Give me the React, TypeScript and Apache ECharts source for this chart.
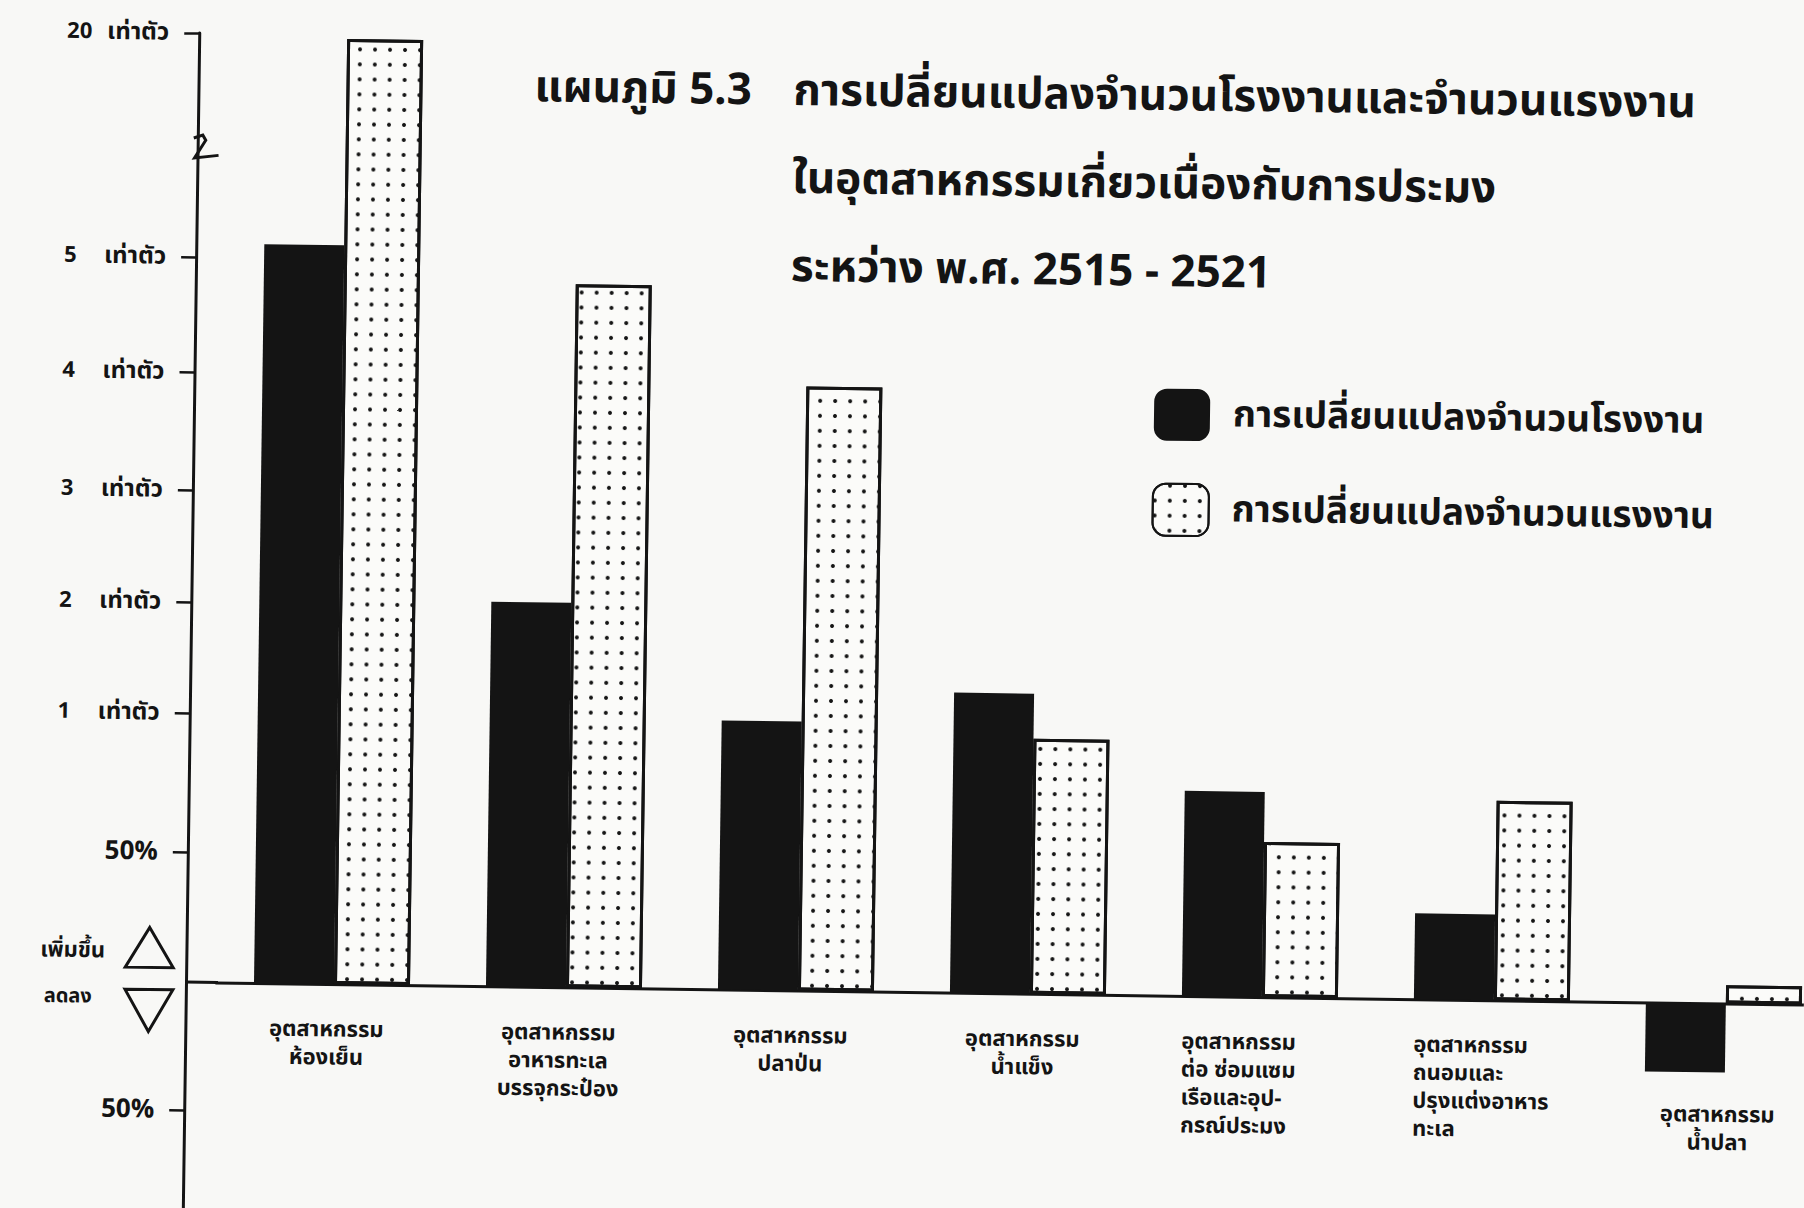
import React, { useEffect, useRef } from 'react';
import * as echarts from 'echarts';

// ---------- data ----------
const categories = [
  'อุตสาหกรรม\nห้องเย็น',
  'อุตสาหกรรม\nอาหารทะเล\nบรรจุกระป๋อง',
  'อุตสาหกรรม\nปลาป่น',
  'อุตสาหกรรม\nน้ำแข็ง',
  'อุตสาหกรรม\nต่อ ซ่อมแซม\nเรือและอุป-\nกรณ์ประมง',
  'อุตสาหกรรม\nถนอมและ\nปรุงแต่งอาหาร\nทะเล',
  'อุตสาหกรรม\nน้ำปลา',
];
const seriesNames = ['การเปลี่ยนแปลงจำนวนโรงงาน', 'การเปลี่ยนแปลงจำนวนแรงงาน'];
// percent change 2515 -> 2521
const factoryChange = [512, 204, 100, 128, 77, 33, -27];
const labourChange = [1950, 481, 395, 95, 59, 75, 7];
// y ticks (percent change) and their labels
const tickValues = [-50, 50, 100, 200, 300, 400, 500, 2000];
const tickNumbers = ['50%', '50%', '1', '2', '3', '4', '5', '20'];
const foldWord = 'เท่าตัว';
const titleLead = 'แผนภูมิ 5.3';
const titleLines = [
  'การเปลี่ยนแปลงจำนวนโรงงานและจำนวนแรงงาน',
  'ในอุตสาหกรรมเกี่ยวเนื่องกับการประมง',
  'ระหว่าง พ.ศ. 2515 - 2521',
];
const upLabel = 'เพิ่มขึ้น';
const downLabel = 'ลดลง';

// The original chart uses a broken, piecewise axis: each labelled step gets its own span.
const scaleDomain = [-50, 0, 50, 100, 200, 300, 400, 500, 600, 2000];
const scaleRange = [-128, 0, 130, 269, 380, 492, 610, 725, 840, 949];

// label layout styles (not data)
const labelLeftAligned = [false, false, false, false, true, true, false];
const labelDrop = [32, 32, 32, 32, 32, 32, 98];

function toAxis(v: number): number {
  const n = scaleDomain.length;
  for (let i = 0; i < n - 1; i++) {
    if (v <= scaleDomain[i + 1] || i === n - 2) {
      const t = (v - scaleDomain[i]) / (scaleDomain[i + 1] - scaleDomain[i]);
      return scaleRange[i] + t * (scaleRange[i + 1] - scaleRange[i]);
    }
  }
  return 0;
}

const INK = '#141414';
const FONT = "'Noto Sans Thai', 'Noto Sans Thai Looped', 'Noto Sans', 'DejaVu Sans', sans-serif";

const tickPositions = tickValues.map(toAxis);

function labelFor(val: number): string {
  const i = tickPositions.findIndex((p) => Math.abs(p - val) < 0.5);
  if (i < 0) return '';
  const num = tickNumbers[i];
  if (num.indexOf('%') >= 0) return `{p|${num}}`;
  return `{n|${num}}{t|${foldWord}}`;
}

export default function App() {
  const ref = useRef<HTMLDivElement>(null);
  useEffect(() => {
    const chart = echarts.init(ref.current!, null, { renderer: 'svg' });
    const bold = { fontFamily: FONT, fontWeight: 'bold' as const, color: INK };
    const option: any = {
      animation: false,
      backgroundColor: 'transparent',
      textStyle: { fontFamily: FONT, color: INK },
      title: [
        {
          text: titleLead,
          left: 517,
          top: 34,
          textStyle: { ...bold, fontSize: 44, lineHeight: 88 },
        },
        {
          text: titleLines.join('\n'),
          left: 776,
          top: 34,
          textStyle: { ...bold, fontSize: 44, lineHeight: 88 },
        },
      ],
      legend: {
        orient: 'vertical',
        left: 1140,
        top: 370,
        itemWidth: 56,
        itemHeight: 52,
        itemGap: 42,
        icon: 'roundRect',
        textStyle: { ...bold, fontSize: 37, padding: [0, 0, 0, 18] },
        data: seriesNames,
      },
      grid: { left: 216, right: -36, top: 33, bottom: 0, containLabel: false, outerBoundsMode: 'none' },
      xAxis: {
        type: 'category',
        data: categories,
        axisLine: { onZero: true, lineStyle: { color: INK, width: 3 } },
        axisTick: { show: false },
        axisLabel: { show: false },
        splitLine: { show: false },
      },
      yAxis: {
        type: 'value',
        min: -226,
        max: 949,
        offset: 30,
        splitLine: { show: false },
        axisLine: { show: true, lineStyle: { color: INK, width: 3 } },
        axisTick: {
          show: true,
          length: 15,
          customValues: tickPositions,
          lineStyle: { color: INK, width: 2.5 },
        },
        axisLabel: {
          customValues: tickPositions,
          margin: 30,
          formatter: (v: number) => labelFor(v),
          rich: {
            n: { ...bold, fontSize: 22, width: 40, align: 'left' },
            t: { ...bold, fontSize: 24 },
            p: { ...bold, fontSize: 26 },
          },
        },
      },
      series: [
        {
          name: seriesNames[0],
          type: 'bar',
          barWidth: 80,
          barGap: '0%',
          data: factoryChange.map(toAxis),
          itemStyle: { color: INK },
        },
        {
          name: seriesNames[1],
          type: 'bar',
          barWidth: 76,
          barGap: '0%',
          data: labourChange.map(toAxis),
          itemStyle: {
            color: '#fbfbf9',
            borderColor: INK,
            borderWidth: 3,
            decal: {
              symbol: 'circle',
              symbolSize: 1,
              dashArrayX: [4, 11],
              dashArrayY: [4, 11],
              color: INK,
            },
          },
        },
        {
          name: 'category-labels',
          type: 'custom',
          silent: true,
          clip: false,
          data: categories.map((c, i) => [i, 0]),
          renderItem: (params: any, api: any) => {
            const i = params.dataIndex;
            const p = api.coord([api.value(0), api.value(1)]);
            const left = labelLeftAligned[i];
            return {
              type: 'text',
              x: left ? p[0] - 78 : p[0] - 5,
              y: p[1] + labelDrop[i],
              style: {
                text: categories[i],
                fill: INK,
                fontFamily: FONT,
                fontWeight: 'bold',
                fontSize: 22,
                lineHeight: 28,
                align: left ? 'left' : 'center',
                verticalAlign: 'top',
              },
            };
          },
        },
      ],
      graphic: [
        {
          type: 'line',
          shape: { x1: 186, y1: 982, x2: 218, y2: 982 },
          style: { stroke: INK, lineWidth: 3 },
        },
        {
          type: 'polyline',
          shape: { points: [[182, 138], [191, 135], [194, 140], [183, 158], [207, 155]] },
          style: { stroke: INK, lineWidth: 3, fill: 'none' },
        },
        {
          type: 'polygon',
          shape: { points: [[149, 928], [173, 968], [125, 968]] },
          style: { stroke: INK, lineWidth: 3, fill: 'none' },
        },
        {
          type: 'polygon',
          shape: { points: [[125, 990], [173, 990], [149, 1032]] },
          style: { stroke: INK, lineWidth: 3, fill: 'none' },
        },
        {
          type: 'text',
          x: 40,
          y: 952,
          style: { text: upLabel, fill: INK, font: `bold 22px ${FONT}`, verticalAlign: 'middle' },
        },
        {
          type: 'text',
          x: 44,
          y: 998,
          style: { text: downLabel, fill: INK, font: `bold 20px ${FONT}`, verticalAlign: 'middle' },
        },
      ],
    };
    chart.setOption(option);
    return () => chart.dispose();
  }, []);
  return (
    <div
      style={{
        position: 'fixed',
        left: 0,
        top: 0,
        width: 1804,
        height: 1208,
        background: '#f8f8f6',
        overflow: 'hidden',
      }}
    >
      <div
        ref={ref}
        style={{
          width: 1804,
          height: 1208,
          transform: 'rotate(0.8deg)',
          transformOrigin: '186px 982px',
        }}
      />
    </div>
  );
}
